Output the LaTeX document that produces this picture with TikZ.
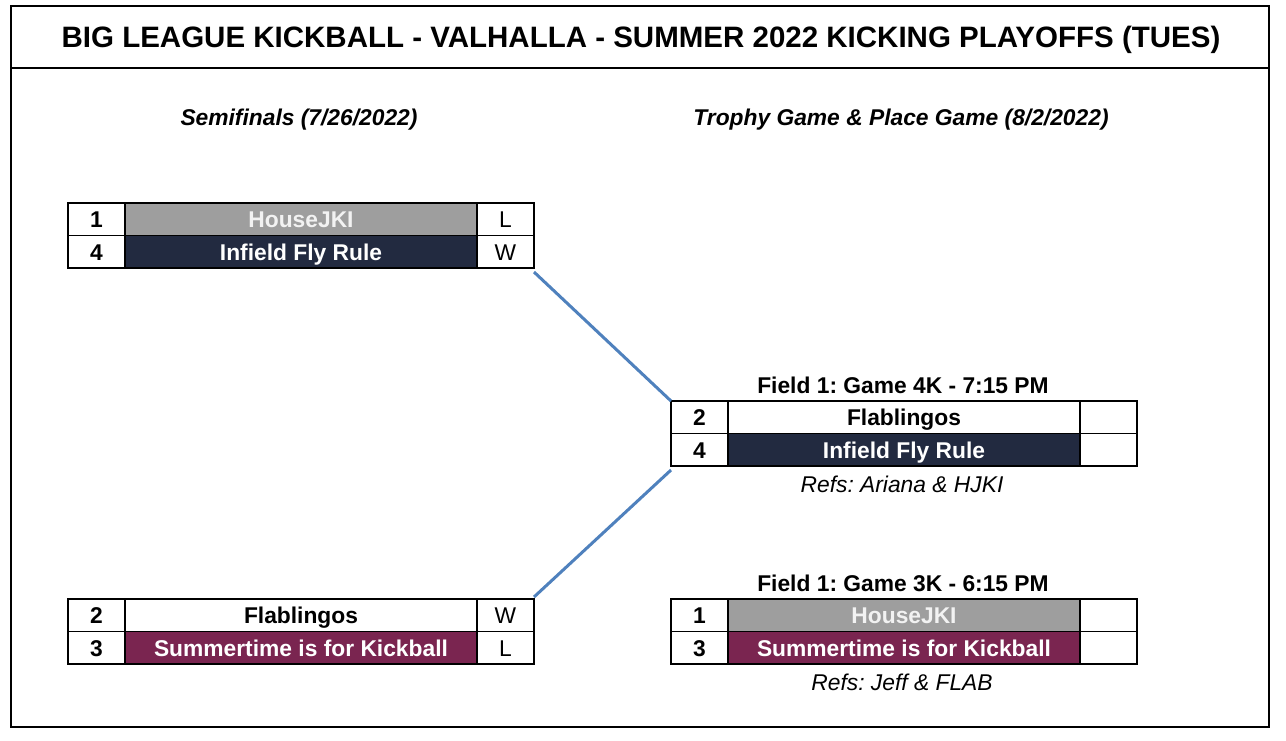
\documentclass[tikz,border=0pt]{standalone}
\usepackage{fontspec}
\setmainfont{Liberation Sans}
\usetikzlibrary{calc}
\frenchspacing
\definecolor{gbg}{HTML}{9E9E9E}
\definecolor{navyc}{HTML}{222A40}
\definecolor{maroonc}{HTML}{7A2550}
\definecolor{connc}{HTML}{4F81BD}
\definecolor{ltxt}{HTML}{F2F2F2}
\tikzset{
  cell/.style={draw=black, line width=1.2pt, inner sep=0pt, outer sep=0pt,
    minimum height=32.5pt, text height=18.5pt, text depth=1.5pt,
    font=\fontsize{22.8}{26}\selectfont\bfseries, anchor=north west},
  seedcell/.style={cell, minimum width=57pt},
  teamcell/.style={cell, minimum width=352pt},
  rescell/.style={cell, minimum width=57pt, font=\fontsize{22.8}{26}\selectfont},
  plainteam/.style={fill=white, text=black},
  grayteam/.style={fill=gbg, text=ltxt},
  navyteam/.style={fill=navyc, text=white},
  maroonteam/.style={fill=maroonc, text=white},
  heading/.style={font=\fontsize{22.8}{26}\selectfont\bfseries\itshape},
  fieldlabel/.style={font=\fontsize{22.8}{26}\selectfont\bfseries},
  refs/.style={font=\fontsize{22.8}{26}\selectfont\itshape},
  titletext/.style={font=\fontsize{29.5}{34}\selectfont\bfseries},
  conn/.style={draw=connc, line width=3pt},
}
\newcommand\myrow[7]{%
  \node[seedcell, fill=white] (#1s) at (#2,#3) {#4};
  \node[teamcell, #6] (#1t) at (#1s.north east) {#5};
  \node[rescell, fill=white] (#1r) at (#1t.north east) {#7};
}
\begin{document}
\begin{tikzpicture}[x=1pt, y=-1pt]
\useasboundingbox (0,0) rectangle (1286,740);
\fill[white] (0,0) rectangle (1286,740);
\draw[line width=2.2pt] (11,6) rectangle (1269,727);
\draw[line width=1.5pt] (11,68) -- (1269,68);
\node[titletext] (title) at (641,40) {BIG LEAGUE KICKBALL - VALHALLA - SUMMER 2022 KICKING PLAYOFFS (TUES)};
\node[heading] (h1) at (299,120) {Semifinals (7/26/2022)};
\node[heading] (h2) at (901,120) {Trophy Game \& Place Game (8/2/2022)};
% semifinal 1
\myrow{a1}{68}{203}{1}{HouseJKI}{grayteam}{L}
\myrow{a2}{68}{235.5}{4}{Infield Fly Rule}{navyteam}{W}
% semifinal 2
\myrow{c1}{68}{599}{2}{Flablingos}{plainteam}{W}
\myrow{c2}{68}{631.5}{3}{Summertime is for Kickball}{maroonteam}{L}
% trophy game
\node[fieldlabel] (f1) at (903,385) {Field 1: Game 4K - 7:15 PM};
\myrow{b1}{671}{401}{2}{Flablingos}{plainteam}{}
\myrow{b2}{671}{433.5}{4}{Infield Fly Rule}{navyteam}{}
\node[refs] (r1) at (902,484) {Refs: Ariana \& HJKI};
% place game
\node[fieldlabel] (f2) at (903,583) {Field 1: Game 3K - 6:15 PM};
\myrow{d1}{671}{599}{1}{HouseJKI}{grayteam}{}
\myrow{d2}{671}{631.5}{3}{Summertime is for Kickball}{maroonteam}{}
\node[refs] (r2) at (902,682) {Refs: Jeff \& FLAB};
% connectors
\coordinate (k1) at ($(a2r.south east)+(0,4)$);
\coordinate (k2) at ($(c1r.north east)+(0,-2)$);
\coordinate (k3) at ($(b2s.south west)+(0,4)$);
\draw[conn] (k1) -- (b1s.north west);
\draw[conn] (k2) -- (k3);
\end{tikzpicture}
\end{document}
